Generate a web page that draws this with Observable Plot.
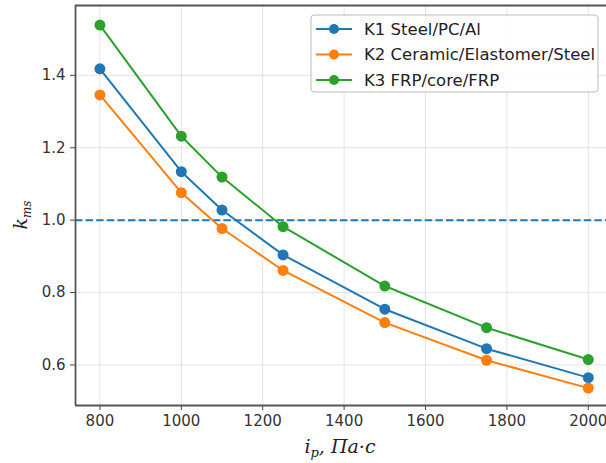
<!DOCTYPE html>
<html>
<head>
<meta charset="utf-8">
<script src="https://cdn.jsdelivr.net/npm/d3@7"></script>
<script src="https://cdn.jsdelivr.net/npm/@observablehq/plot@0.6"></script>
<style>
  html, body { margin: 0; padding: 0; background: #fff; overflow: hidden; }
</style>
</head>
<body>
<div id="chart"></div>
<script>
const xValues = [800, 1000, 1100, 1250, 1500, 1750, 2000];
const k1 = [1.418, 1.134, 1.028, 0.904, 0.754, 0.645, 0.565];
const k2 = [1.346, 1.076, 0.977, 0.861, 0.717, 0.613, 0.536];
const k3 = [1.539, 1.232, 1.119, 0.982, 0.818, 0.703, 0.615];
const seriesNames = ["K1 Steel/PC/Al", "K2 Ceramic/Elastomer/Steel", "K3 FRP/core/FRP"];
const seriesColors = ["#1f77b4", "#ff7f0e", "#2ca02c"];
const xTicks = [800, 1000, 1200, 1400, 1600, 1800, 2000];
const yTicks = [0.6, 0.8, 1.0, 1.2, 1.4];
const threshold = [1.0];

const allSeries = [k1, k2, k3];
const data = [];
allSeries.forEach((vals, i) => {
  vals.forEach((v, j) => data.push({series: seriesNames[i], x: xValues[j], y: v}));
});

const xDom = [740, 2044.7];
const yDom = [0.488, 1.593];

const chart = Plot.plot({
  width: 606,
  height: 463,
  marginLeft: 75,
  marginRight: 0,
  marginTop: 5,
  marginBottom: 58,
  style: {fontFamily: "DejaVu Sans", fontSize: "15px", color: "#333", background: "white"},
  x: {domain: xDom, label: null},
  y: {domain: yDom, label: null},
  color: {domain: seriesNames, range: seriesColors},
  marks: [
    Plot.gridX(xTicks, {stroke: "#b0b0b0", strokeOpacity: 0.35, strokeWidth: 1}),
    Plot.gridY(yTicks, {stroke: "#b0b0b0", strokeOpacity: 0.35, strokeWidth: 1}),
    Plot.ruleY(threshold, {stroke: "#1f77b4", strokeWidth: 2, strokeDasharray: "7.4,3.2"}),
    Plot.line(data, {x: "x", y: "y", stroke: "series", strokeWidth: 2}),
    Plot.dot(data, {x: "x", y: "y", fill: "series", r: 5.5}),
    Plot.axisX(xTicks, {tickSize: 5, tickPadding: 5, tickFormat: d => String(d), stroke: "#444", label: null}),
    Plot.axisY(yTicks, {tickSize: 5, tickPadding: 5, tickFormat: d => d.toFixed(1), stroke: "#444", label: null}),
    Plot.ruleX([xDom[0]], {stroke: "#555", strokeWidth: 1.8}),
    Plot.ruleY([yDom[0], yDom[1]], {stroke: "#555", strokeWidth: 1.8})
  ]
});

document.getElementById("chart").appendChild(chart);

const svg = d3.select(chart);
// Legend
const lg = svg.append("g").attr("text-anchor", "start");
lg.append("rect").attr("x", 311).attr("y", 15).attr("width", 287).attr("height", 77)
  .attr("rx", 3).attr("fill", "white").attr("fill-opacity", 0.85).attr("stroke", "#bbbbbb").attr("stroke-width", 1);
seriesNames.forEach((name, i) => {
  const cy = 29 + i * 25.5;
  lg.append("line").attr("x1", 316).attr("x2", 352).attr("y1", cy).attr("y2", cy)
    .attr("stroke", seriesColors[i]).attr("stroke-width", 2);
  lg.append("circle").attr("cx", 334).attr("cy", cy).attr("r", 5).attr("fill", seriesColors[i]);
  lg.append("text").attr("x", 364).attr("y", cy).attr("dy", "0.36em").attr("text-anchor", "start")
    .attr("font-family", "DejaVu Sans").attr("font-size", "16.5px").attr("fill", "#222").text(name);
});

// Axis titles
const xt = svg.append("text").attr("x", 340).attr("y", 453).attr("text-anchor", "middle")
  .attr("font-family", "DejaVu Serif").attr("font-style", "italic").attr("font-size", "19px").attr("fill", "#222");
xt.append("tspan").text("i");
xt.append("tspan").attr("font-size", "13px").attr("dy", "4").text("p");
xt.append("tspan").attr("dy", "-4").text(", Па·с");

const yt = svg.append("text").attr("transform", "translate(27,215) rotate(-90)").attr("text-anchor", "middle")
  .attr("font-family", "DejaVu Serif").attr("font-style", "italic").attr("font-size", "19px").attr("fill", "#222");
yt.append("tspan").text("k");
yt.append("tspan").attr("font-size", "12px").attr("dy", "4").text("ms");
</script>
</body>
</html>
